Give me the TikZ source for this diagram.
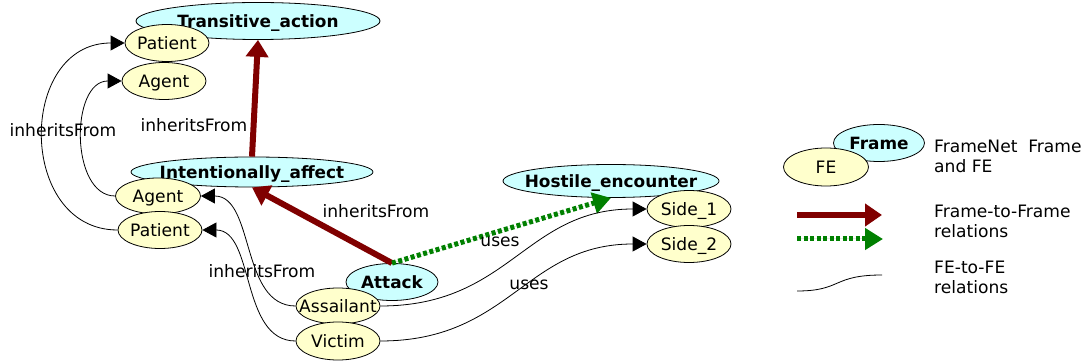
\documentclass[tikz,border=0pt]{standalone}
\usepackage{fontspec}
\setmainfont{DejaVu Sans}
\usetikzlibrary{shapes.geometric,arrows.meta}
\definecolor{framefill}{HTML}{CCFFFF}
\definecolor{fefill}{HTML}{FFFFCC}
\definecolor{inhred}{HTML}{800000}
\definecolor{usegreen}{HTML}{008000}
% label centred in an ellipse without enlarging it
\newcommand\inell[1]{\raisebox{-0.36em}[0pt][0pt]{\makebox[0pt]{#1}}}

\begin{document}
\begin{tikzpicture}[x=1pt,y=-1pt,
  font=\fontsize{17.1}{20}\selectfont,
  frame/.style={ellipse, draw=black, line width=0.8pt, fill=framefill,
    inner sep=0pt, font=\fontsize{16.9}{20}\selectfont\bfseries},
  fe/.style={ellipse, draw=black, line width=0.8pt, fill=fefill,
    inner sep=0pt, minimum width=84pt, minimum height=37pt},
  inh/.style={draw=inhred, fill=inhred, line width=6pt,
    -{Triangle[length=17pt,width=22pt]}},
  uses/.style={draw=usegreen, fill=usegreen, line width=5pt,
    dash pattern=on 4pt off 2.5pt, -{Triangle[length=18pt,width=21pt]}},
  fefe/.style={draw=black, line width=0.8pt,
    -{Triangle[length=14pt,width=15pt]}},
  plain/.style={draw=black, line width=0.8pt},
  lbl/.style={inner sep=0pt, anchor=base},
  legtxt/.style={inner sep=0pt, anchor=base west, align=left}]

\useasboundingbox (0,0) rectangle (1088,363);

% frames
\node[frame, minimum width=244pt, minimum height=37pt] (TA) at (258,21) {\inell{Transitive\_action}};
\node[frame, minimum width=242pt, minimum height=30pt] (IA) at (252,172) {\inell{Intentionally\_affect}};
\node[frame, minimum width=92pt, minimum height=37pt] (AT) at (392,282) {\inell{Attack}};
\node[frame, minimum width=216pt, minimum height=33pt] (HE) at (611,181) {\inell{Hostile\_encounter}};

% frame elements
\node[fe] (TApat) at (167,43) {\inell{Patient}};
\node[fe] (TAag) at (164,81) {\inell{Agent}};
\node[fe, minimum width=85pt, minimum height=36pt] (IAag) at (158,196) {\inell{Agent}};
\node[fe] (IApat) at (160,230) {\inell{Patient}};
\node[fe, minimum height=36pt] (ATass) at (338,306) {\inell{Assailant}};
\node[fe, minimum height=38pt] (ATvic) at (338,341) {\inell{Victim}};
\node[fe] (HEs1) at (689,209) {\inell{Side\_1}};
\node[fe] (HEs2) at (689,244) {\inell{Side\_2}};

% frame-to-frame relations
\draw[inh] (IA.north) -- (TA.south);
\draw[inh] (AT.north) -- (IA.south);
\draw[uses] (AT.north) -- (HE.south);

% FE-to-FE relations
\draw[fefe] (IApat.west) .. controls (17,230) and (17,43) .. (TApat.west);
\draw[fefe] (IAag.west) .. controls (70,196) and (70,81) .. (TAag.west);
\draw[fefe] (ATass.west) .. controls (240,306) and (255,196) .. (IAag.east);
\draw[fefe] (ATvic.west) .. controls (240,341) and (255,230) .. (IApat.east);
\draw[fefe] (ATass.east) .. controls (510,306) and (525,209) .. (HEs1.west);
\draw[fefe] (ATvic.east) .. controls (510,341) and (525,244) .. (HEs2.west);

% relation labels
\node[lbl] (l1) at (63,137) {inheritsFrom};
\node[lbl] (l2) at (194,132) {inheritsFrom};
\node[lbl] (l3) at (376,218) {inheritsFrom};
\node[lbl] (l4) at (262,278) {inheritsFrom};
\node[lbl] (l5) at (500,247) {uses};
\node[lbl] (l6) at (529,290) {uses};

% legend
\node[frame, minimum width=91pt, minimum height=37pt] (lgF) at (879,143) {\inell{Frame}};
\node[fe, minimum width=85pt, minimum height=38pt] (lgE) at (826,167) {\inell{FE}};
\node[legtxt] (lt1) at (934,173) {FrameNet~~Frame\\and FE};
\coordinate (r1) at (797,215);
\coordinate (r2) at (882,215);
\draw[inh] (r1) -- (r2);
\coordinate (g1) at (797,239);
\coordinate (g2) at (883,239);
\draw[uses] (g1) -- (g2);
\node[legtxt] (lt2) at (934,238) {Frame-to-Frame\\relations};
\coordinate (b1) at (797,291);
\coordinate (b2) at (882,275);
\draw[plain] (b1) .. controls (842,291) and (832,275) .. (b2);
\node[legtxt] (lt3) at (934,294) {FE-to-FE\\relations};
\end{tikzpicture}
\end{document}
